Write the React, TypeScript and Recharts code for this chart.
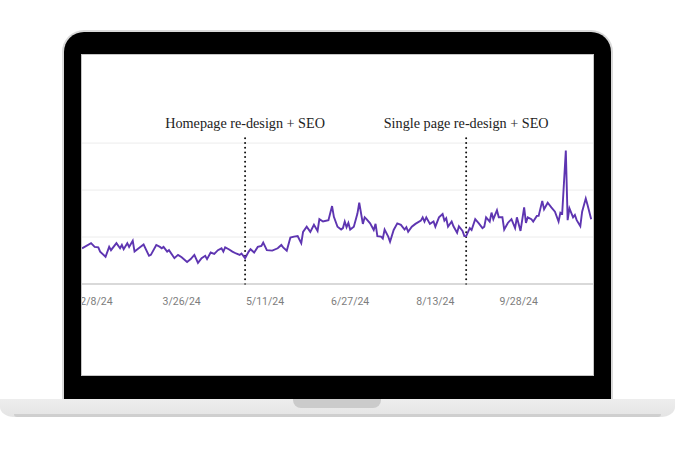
import React from "react";
import { LineChart, Line, XAxis, YAxis, ReferenceLine } from "recharts";

const dates = [
  "2024-01-31","2024-02-05","2024-02-07","2024-02-09","2024-02-10","2024-02-13","2024-02-15","2024-02-16","2024-02-19","2024-02-21",
  "2024-02-22","2024-02-23","2024-02-25","2024-02-26","2024-02-28","2024-02-29","2024-03-03","2024-03-05","2024-03-08","2024-03-09",
  "2024-03-12","2024-03-14","2024-03-15","2024-03-16","2024-03-18","2024-03-19","2024-03-22","2024-03-24","2024-03-26","2024-03-29",
  "2024-03-31","2024-04-02","2024-04-04","2024-04-06","2024-04-08","2024-04-09","2024-04-11","2024-04-13","2024-04-15","2024-04-17",
  "2024-04-18","2024-04-19","2024-04-21","2024-04-23","2024-04-25","2024-04-27","2024-04-28","2024-04-30","2024-05-02","2024-05-03",
  "2024-05-05","2024-05-07","2024-05-09","2024-05-10","2024-05-12","2024-05-15","2024-05-18","2024-05-20","2024-05-21","2024-05-23",
  "2024-05-25","2024-05-27","2024-05-29","2024-05-31","2024-06-01","2024-06-03","2024-06-05","2024-06-07","2024-06-09","2024-06-10",
  "2024-06-12","2024-06-15","2024-06-17","2024-06-18","2024-06-20","2024-06-22","2024-06-23","2024-06-24","2024-06-25","2024-06-26",
  "2024-06-27","2024-06-29","2024-07-01","2024-07-02","2024-07-04","2024-07-05","2024-07-06","2024-07-08","2024-07-10","2024-07-11",
  "2024-07-12","2024-07-14","2024-07-15","2024-07-16","2024-07-18","2024-07-19","2024-07-21","2024-07-23","2024-07-25","2024-07-27",
  "2024-07-28","2024-07-29","2024-07-31","2024-08-02","2024-08-05","2024-08-06","2024-08-07","2024-08-08","2024-08-10","2024-08-12",
  "2024-08-13","2024-08-15","2024-08-17","2024-08-18","2024-08-19","2024-08-20","2024-08-22","2024-08-23","2024-08-25","2024-08-26",
  "2024-08-28","2024-08-29","2024-08-30","2024-09-01","2024-09-02","2024-09-04","2024-09-06","2024-09-08","2024-09-09","2024-09-10",
  "2024-09-12","2024-09-13","2024-09-14","2024-09-16","2024-09-17","2024-09-19","2024-09-20","2024-09-22","2024-09-24","2024-09-26",
  "2024-09-27","2024-09-29","2024-10-01","2024-10-02","2024-10-03","2024-10-05","2024-10-06","2024-10-08","2024-10-09","2024-10-11",
  "2024-10-12","2024-10-14","2024-10-16","2024-10-18","2024-10-20","2024-10-21","2024-10-22","2024-10-24","2024-10-25","2024-10-26",
  "2024-10-28","2024-10-29","2024-10-30","2024-11-01","2024-11-02","2024-11-04","2024-11-05","2024-11-07",
];

const clicks = [
  760, 870, 790, 780, 690, 580, 790, 720, 870, 760,
  830, 740, 870, 790, 920, 690, 780, 840, 600, 620,
  830, 790, 760, 790, 690, 720, 550, 620, 570, 470,
  530, 620, 450, 550, 600, 530, 670, 640, 720, 760,
  690, 780, 740, 690, 650, 620, 650, 550, 690, 740,
  670, 790, 810, 880, 720, 710, 760, 830, 780, 710,
  990, 1010, 1020, 870, 1110, 1220, 1110, 1260, 1130, 1380,
  1330, 1360, 1660, 1430, 1220, 1160, 1190, 1330, 1210, 1300,
  1160, 1220, 1500, 1730, 1280, 1420, 1380, 1290, 1150, 1280,
  1020, 1010, 970, 1160, 1010, 900, 1150, 1290, 1260, 1160,
  1210, 1110, 1220, 1280, 1350, 1420, 1330, 1420, 1280, 1330,
  1220, 1420, 1490, 1350, 1400, 1220, 1330, 1230, 1090, 1230,
  1130, 1020, 1020, 1190, 1150, 1380, 1290, 1190, 1220, 1420,
  1330, 1520, 1380, 1570, 1420, 1420, 1160, 1300, 1380, 1190,
  1420, 1130, 1630, 1300, 1420, 1380, 1330, 1450, 1450, 1770,
  1590, 1730, 1630, 1540, 1330, 1520, 1500, 2840, 1360, 1610,
  1420, 1470, 1360, 1230, 1540, 1820, 1680, 1380,
];

const tickDates = ["2024-02-08", "2024-03-26", "2024-05-11", "2024-06-27", "2024-08-13", "2024-09-28"];
const gridValues = [1000, 2000, 3000];
const eventDates = ["2024-04-30", "2024-08-30"];
const eventLabels = ["Homepage re-design + SEO", "Single page re-design + SEO"];
const domainDates = ["2024-01-31", "2024-11-08"];
const yDomain = [0, 3130];

const data = dates.map((d, i) => ({ t: Date.parse(d), clicks: clicks[i] }));

const fmt = (t: number) => {
  const d = new Date(t);
  return `${d.getUTCMonth() + 1}/${d.getUTCDate()}/${String(d.getUTCFullYear()).slice(2)}`;
};

export default function App() {
  return (
    <div style={{ position: "absolute", left: 0, top: 0, width: 675, height: 450, background: "#fff", overflow: "hidden" }}>
      {/* bezel */}
      <div
        style={{
          position: "absolute",
          left: 64,
          top: 32,
          width: 547,
          height: 367,
          background: "#000",
          borderRadius: "20px 20px 0 0",
          boxShadow: "0 0 0 2px #dadada",
        }}
      />
      {/* screen */}
      <div
        style={{
          position: "absolute",
          left: 82,
          top: 55,
          width: 511,
          height: 320,
          background: "#fff",
          overflow: "hidden",
          boxShadow: "0 0 0 1px #c6c6c6",
        }}
      >
        <LineChart width={511} height={320} data={data} margin={{ top: 82, right: 0, bottom: 61, left: 0 }}>
          <XAxis
            dataKey="t"
            type="number"
            scale="time"
            domain={domainDates.map((d) => Date.parse(d))}
            ticks={tickDates.map((d) => Date.parse(d))}
            tickFormatter={fmt}
            tickLine={false}
            tickSize={6}
            tickMargin={8}
            axisLine={{ stroke: "#b3b3b3" }}
            tick={{ fill: "#7d7d7d", fontSize: 10.5, fontFamily: "Roboto" }}
            allowDataOverflow
            height={30}
          />
          <YAxis hide domain={yDomain} allowDataOverflow />
          {gridValues.map((v) => (
            <ReferenceLine key={v} y={v} stroke="#ececec" strokeWidth={1} />
          ))}
          {eventDates.map((d, i) => (
            <ReferenceLine
              key={d}
              x={Date.parse(d)}
              stroke="#111"
              strokeWidth={2}
              strokeDasharray="0 4.7"
              strokeLinecap="round"
              label={{
                value: eventLabels[i],
                position: "top",
                offset: 9,
                fill: "#222",
                fontSize: 14.2,
                fontFamily: "Liberation Serif",
              }}
            />
          ))}
          <Line
            type="linear"
            dataKey="clicks"
            stroke="#5e35b1"
            strokeWidth={1.9}
            dot={false}
            isAnimationActive={false}
          />
        </LineChart>
      </div>
      {/* base */}
      <div
        style={{
          position: "absolute",
          left: 0,
          top: 399,
          width: 675,
          height: 18,
          background: "linear-gradient(#ededed, #e4e4e4)",
          borderRadius: "0 0 14px 14px / 0 0 10px 10px",
        }}
      />
      <div
        style={{
          position: "absolute",
          left: 14,
          top: 414,
          width: 647,
          height: 3,
          background: "#cfcfcf",
          borderRadius: "0 0 8px 8px",
        }}
      />
      {/* notch */}
      <div
        style={{
          position: "absolute",
          left: 293,
          top: 399,
          width: 88,
          height: 9,
          background: "#cbcbcb",
          borderRadius: "0 0 8px 8px",
        }}
      />
    </div>
  );
}
